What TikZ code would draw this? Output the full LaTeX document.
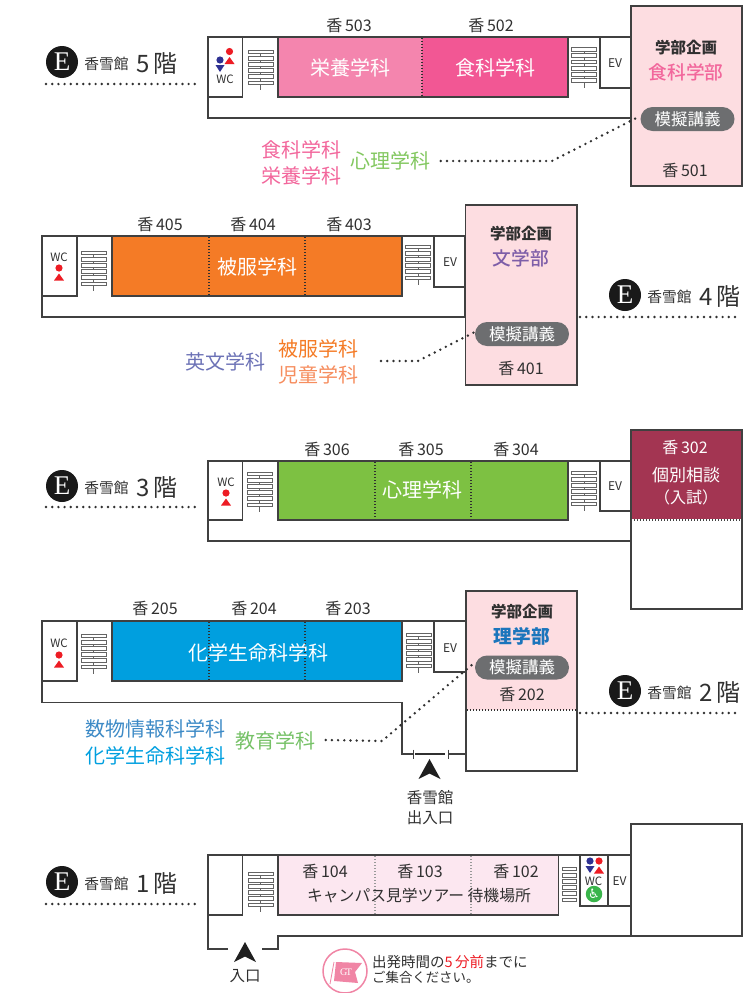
\documentclass[tikz,border=0pt]{standalone}
\usepackage{fontspec}
\setmainfont{Noto Sans CJK JP}
\newfontfamily\cjkmed{Noto Sans CJK JP Medium}
\newfontfamily\efont{Liberation Serif}
\newfontfamily\symfont{DejaVu Sans}
\definecolor{wallc}{HTML}{404040}
\definecolor{pinkbg}{HTML}{FDDDE1}
\definecolor{txtc}{HTML}{303030}
\definecolor{eiyo}{HTML}{F485AE}
\definecolor{shoku}{HTML}{F25794}
\definecolor{shokut}{HTML}{F2679C}
\definecolor{orangec}{HTML}{F47B26}
\definecolor{jidoc}{HTML}{F68D5E}
\definecolor{greenc}{HTML}{7DC142}
\definecolor{greent}{HTML}{82C75F}
\definecolor{bluec}{HTML}{009FDF}
\definecolor{blued}{HTML}{1B75BC}
\definecolor{maroon}{HTML}{A33552}
\definecolor{purplet}{HTML}{7E5EA8}
\definecolor{eibun}{HTML}{6C72B6}
\definecolor{kyoiku}{HTML}{76C167}
\definecolor{pillc}{HTML}{6D6E70}
\definecolor{tourbg}{HTML}{FCE7F0}
\definecolor{wcred}{HTML}{ED1C24}
\definecolor{wcblue}{HTML}{2E3192}
\definecolor{wcgreen}{HTML}{39B54A}
\definecolor{gtpink}{HTML}{F085A5}
\tikzset{
 wall/.style={draw=wallc,line width=1.5pt},
 partline/.style={draw=txtc,line width=1.2pt,dash pattern=on 1.2pt off 1.8pt},
 dotconn/.style={draw=txtc,line width=2.7pt,line cap=round,dash pattern=on 0pt off 6.2pt},
 lbl/.style={inner sep=0pt,yshift=-1pt,text=txtc,font=\fontsize{16}{18}\selectfont},
 big/.style={inner sep=0pt,yshift=-1pt,font=\fontsize{20}{24}\selectfont},
 roomtxt/.style={big,text=white},
 evtxt/.style={inner sep=0pt,text=txtc,font=\fontsize{12}{14}\selectfont},
 wctxt/.style={inner sep=0pt,text=txtc,font=\fontsize{11.5}{13}\selectfont},
 plan/.style={inner sep=0pt,text=txtc,font=\fontsize{15.5}{18}\selectfont\bfseries},
 fac/.style={inner sep=0pt,yshift=-1pt,font=\cjkmed\fontsize{18.7}{22}\selectfont},
 pill/.style={fill=pillc,text=white,inner sep=0pt,minimum width=94pt,minimum height=24pt,rounded corners=12pt,font=\fontsize{16.5}{20}\selectfont},
 ecirc/.style={circle,fill=black!90,text=white,inner sep=0pt,minimum size=32pt,font=\efont\fontsize{27}{28}\selectfont},
 kan/.style={inner sep=0pt,yshift=-1pt,text=txtc,font=\fontsize{14.7}{18}\selectfont},
 flr/.style={inner sep=0pt,yshift=-1pt,text=txtc,font=\fontsize{24}{26}\selectfont},
 floorline/.style={dotconn},
 stairrect/.style={draw=txtc!75,line width=.8pt,fill=white},
}
\newcommand{\stairs}[2]{% x-left, y-top
 \draw[txtc!75,line width=.9pt] ({#1+12.5},#2) -- ({#1+12.5},{#2+40});
 \foreach \k in {0,...,5}{\draw[stairrect] (#1,{#2+\k*6.2}) rectangle ++(25,3.8);}}
\newcommand{\femaleicon}[2]{% centre x, circle y
 \fill[wcred] (#1,#2) circle (3.6);
 \fill[wcred] ({#1-5},{#2+12.5}) -- (#1,{#2+5.5}) -- ({#1+5},{#2+12.5}) -- cycle;}
\newcommand{\maleicon}[2]{%
 \fill[wcblue] (#1,#2) circle (3.6);
 \fill[wcblue] ({#1-4.5},{#2+5}) -- ({#1+4.5},{#2+5}) -- (#1,{#2+12}) -- cycle;}
\newcommand{\entryarrow}[2]{% apex x,y
 \fill[black!88] (#1,#2) -- ({#1+11},{#2+20}) -- (#1,{#2+14.5}) -- ({#1-11},{#2+20}) -- cycle;}
\newcommand{\floorhead}[4]{% name, circle x, y, digit
 \node[ecirc] (e#1) at (#2,#3) {E};
 \node[kan] (k#1) at ({#2+44.5},{#3+1}) {香雪館};
 \node[flr] (f#1) at ({#2+95},{#3+1}) {#4\,階};}
\begin{document}
\begin{tikzpicture}[x=1pt,y=-1pt]
\useasboundingbox (0,0) rectangle (744,993);
%---------- 5F
\draw[wall] (208,37) rectangle (631,118);
\draw[wall,fill=white] (208,37) rectangle (242.5,97);
\fill[eiyo] (278,37) rectangle (422,97);
\fill[shoku] (422,37) rectangle (568,97);
\draw[wall] (278,37) rectangle (568,97);
\draw[partline] (422,38) -- (422,96);
\stairs{248}{50}
\stairs{571.5}{47.5}
\draw[wall,fill=white] (600,37) rectangle (631,88);
\draw[wall,fill=pinkbg] (631,6) rectangle (742,186);
\femaleicon{229.5}{51.5}
\maleicon{220}{60}
\node[wctxt] (wc5) at (225,79) {WC};
\node[evtxt] (ev5) at (615,63) {EV};
\node[lbl] (r503) at (349,24) {香\,503};
\node[lbl] (r502) at (491,24) {香\,502};
\node[roomtxt] (rm5a) at (350,67) {栄養学科};
\node[roomtxt] (rm5b) at (495,67) {食科学科};
\node[plan] (pl5) at (686,48) {学部企画};
\node[fac,text=shokut] (fc5) at (686,71) {食科学部};
\node[pill] (p5) at (687.5,119) {模擬講義};
\node[lbl] (r501) at (685,169) {香\,501};
\node[big,text=shokut] (t5a) at (301,149) {食科学科};
\node[big,text=shokut] (t5b) at (301,175) {栄養学科};
\node[big,text=greent] (t5c) at (390.5,160) {心理学科};
\coordinate (b5) at (552,161);
\draw[dotconn] ([xshift=10pt,yshift=0pt]t5c.east) -- (b5) -- ([yshift=3pt]p5.west);
\floorhead{5}{62}{62}{5}
\draw[floorline] (46,84) -- (200,84);
%---------- 4F
\draw[wall] (42,236) rectangle (465,317);
\draw[wall,fill=white] (42,236) rectangle (77,296);
\draw[wall,fill=orangec] (112,236) rectangle (402,296);
\draw[partline] (209,237) -- (209,295);
\draw[partline] (305,237) -- (305,295);
\stairs{81}{251}
\stairs{405.5}{245}
\draw[wall,fill=white] (434,236) rectangle (465,287);
\draw[wall,fill=pinkbg] (465.5,205) rectangle (577,385);
\node[wctxt] (wc4) at (59,257) {WC};
\femaleicon{59}{268}
\node[evtxt] (ev4) at (450,262) {EV};
\node[lbl] (r405) at (160,223) {香\,405};
\node[lbl] (r404) at (253,223) {香\,404};
\node[lbl] (r403) at (349,223) {香\,403};
\node[roomtxt] (rm4) at (257,266) {被服学科};
\node[plan] (pl4) at (521,234) {学部企画};
\node[fac,text=purplet] (fc4) at (521,257) {文学部};
\node[pill] (p4) at (522,334) {模擬講義};
\node[lbl] (r401) at (521,367) {香\,401};
\node[big,text=eibun] (t4a) at (225,361) {英文学科};
\node[big,text=orangec] (t4b) at (318,348) {被服学科};
\node[big,text=jidoc] (t4c) at (318,374) {児童学科};
\coordinate (b4) at (418,361);
\coordinate (s4) at (381,361);
\draw[dotconn] (s4) -- (b4) -- ([yshift=2pt]p4.west);
\floorhead{4}{625}{295}{4}
\draw[floorline] (580,317) -- (740,317);
%---------- 3F
\draw[wall] (208,461) rectangle (631,541);
\draw[wall,fill=white] (208,461) rectangle (242.5,520);
\draw[wall,fill=greenc] (278,461) rectangle (568,520);
\draw[partline] (375,462) -- (375,519);
\draw[partline] (471,462) -- (471,519);
\stairs{247}{472}
\stairs{571.5}{471}
\draw[wall,fill=white] (600,461) rectangle (631,511);
\draw[wall,fill=white] (631,430) rectangle (742,609);
\fill[maroon] (631,430) rectangle (742,520);
\draw[wall] (631,430) rectangle (742,520);
\draw[white,line width=1.2pt,dash pattern=on 1.5pt off 1.5pt] (632,520) -- (741,520);
\node[wctxt] (wc3) at (226,482) {WC};
\femaleicon{226}{493}
\node[evtxt] (ev3) at (615,486) {EV};
\node[lbl] (r306) at (327,448) {香\,306};
\node[lbl] (r305) at (421,448) {香\,305};
\node[lbl] (r304) at (516,448) {香\,304};
\node[roomtxt] (rm3) at (422,489) {心理学科};
\node[lbl,text=white] (r302) at (685,446) {香\,302};
\node[inner sep=0pt,text=white,font=\fontsize{17}{20}\selectfont] (so3) at (686,475) {個別相談};
\node[inner sep=0pt,text=white,font=\fontsize{16}{18}\selectfont] (nyu3) at (686,497) {（入試）};
\floorhead{3}{62}{486}{3}
\draw[floorline] (46,507) -- (200,507);
%---------- 2F
\draw[wall] (465,621) -- (42,621) -- (42,702.5) -- (402,702.5) -- (402,754) -- (413,754);
\draw[wall] (448,754) -- (466,754);
\draw[wall,line width=1pt] (413,749.5) -- (413,758.5);
\draw[wall,line width=1pt] (448,749.5) -- (448,758.5);
\draw[txtc,line width=2.5pt] (415,754) -- (445,754);
\draw[wall,fill=white] (42,621) rectangle (77,681);
\draw[wall,fill=bluec] (112,621) rectangle (402,681);
\draw[partline] (209,622) -- (209,680);
\draw[partline] (305,622) -- (305,680);
\stairs{81}{634}
\stairs{406}{633}
\draw[wall,fill=white] (434,621) rectangle (465.5,672);
\fill[pinkbg] (466,591) rectangle (577,710);
\draw[wall] (466,591) rectangle (577,771);
\draw[partline] (467,710) -- (576,710);
\node[wctxt] (wc2) at (59,643) {WC};
\femaleicon{59}{655}
\node[evtxt] (ev2) at (450,648) {EV};
\node[lbl] (r205) at (155,607) {香\,205};
\node[lbl] (r204) at (254,607) {香\,204};
\node[lbl] (r203) at (348,607) {香\,203};
\node[roomtxt] (rm2) at (258,652) {化学生命科学科};
\node[plan] (pl2) at (522,612) {学部企画};
\node[fac,text=blued,font=\fontsize{18.7}{22}\selectfont\bfseries] (fc2) at (522,635) {理学部};
\node[pill] (p2) at (522,667.5) {模擬講義};
\node[lbl] (r202) at (522,693) {香\,202};
\node[big,text=blued!85!white] (t2a) at (155.5,728) {数物情報科学科};
\node[big,text=bluec] (t2b) at (155.5,755) {化学生命科学科};
\node[big,text=kyoiku] (t2c) at (275.5,740) {教育学科};
\coordinate (b2) at (382,741);
\draw[dotconn] ([xshift=10pt,yshift=1pt]t2c.east) -- (b2) -- ([yshift=6pt,xshift=1pt]p2.west);
\entryarrow{429.5}{759}
\node[kan,font=\fontsize{15.5}{18}\selectfont] (ent2a) at (430,797) {香雪館};
\node[kan,font=\fontsize{15.5}{18}\selectfont] (ent2b) at (430,817) {出入口};
\floorhead{2}{625}{691}{2}
\draw[floorline] (580,713) -- (740,713);
%---------- 1F
\draw[wall] (228,949) -- (208,949) -- (208,855) -- (631,855);
\draw[wall] (262,949) -- (278,949) -- (278,936) -- (631,936);
\draw[wall] (208,915) -- (242.5,915) -- (242.5,855);
\draw[wall,fill=tourbg] (278,855) rectangle (558.5,915);
\draw[black!40,line width=1.2pt,dash pattern=on 1.2pt off 1.8pt] (375,856) -- (375,914);
\draw[black!40,line width=1.2pt,dash pattern=on 1.2pt off 1.8pt] (471,856) -- (471,914);
\stairs{248}{872}
\foreach \k in {0,...,5}{\draw[stairrect] (562,{867+\k*6.2}) rectangle ++(14,3.8);}
\draw[wall,fill=white] (580,855) rectangle (608,906);
\draw[wall,fill=white] (608,855) rectangle (631,906);
\draw[wall,fill=white] (631,824) rectangle (742,936);
\maleicon{590}{861}
\femaleicon{599}{861}
\node[wctxt] (wc1) at (593.5,881) {WC};
\node[circle,fill=wcgreen,text=white,inner sep=0pt,minimum size=16.5pt,font=\symfont\fontsize{13}{13}\selectfont] (acc1) at (594,894) {♿};
\node[evtxt] (ev1) at (619.5,881) {EV};
\node[lbl] (r104) at (325,870) {香\,104};
\node[lbl] (r103) at (420,870) {香\,103};
\node[lbl] (r102) at (516,870) {香\,102};
\node[lbl,font=\fontsize{15.8}{18}\selectfont] (tour) at (419,895) {キャンパス見学ツアー 待機場所};
\entryarrow{245}{942}
\node[kan,font=\fontsize{15.5}{18}\selectfont] (ent1) at (245,975) {入口};
\floorhead{1}{62}{882}{1}
\draw[floorline] (46,904) -- (200,904);
%---------- GT
\node[circle,draw=gtpink,line width=1.5pt,fill=white,inner sep=0pt,minimum size=44pt] (gt) at (345,971) {};
\draw[gtpink,line width=.8pt] (334,962) -- (330,984);
\fill[gtpink] (336,962) -- (362,963) -- (355,972) -- (358,983) -- (334,981) -- cycle;
\node[inner sep=0pt,text=white,font=\efont\fontsize{10}{10}\selectfont] (gtt) at (346,972) {G\kern-1.5pt T};
\node[inner sep=0pt,anchor=west,text=txtc,font=\fontsize{14.5}{15}\selectfont] (n1) at (372,961.5) {出発時間の\textcolor{wcred}{5\,分前}までに};
\node[inner sep=0pt,anchor=west,text=txtc,font=\fontsize{13.4}{15}\selectfont] (n2) at (372,977.5) {ご集合ください。};
\end{tikzpicture}
\end{document}
